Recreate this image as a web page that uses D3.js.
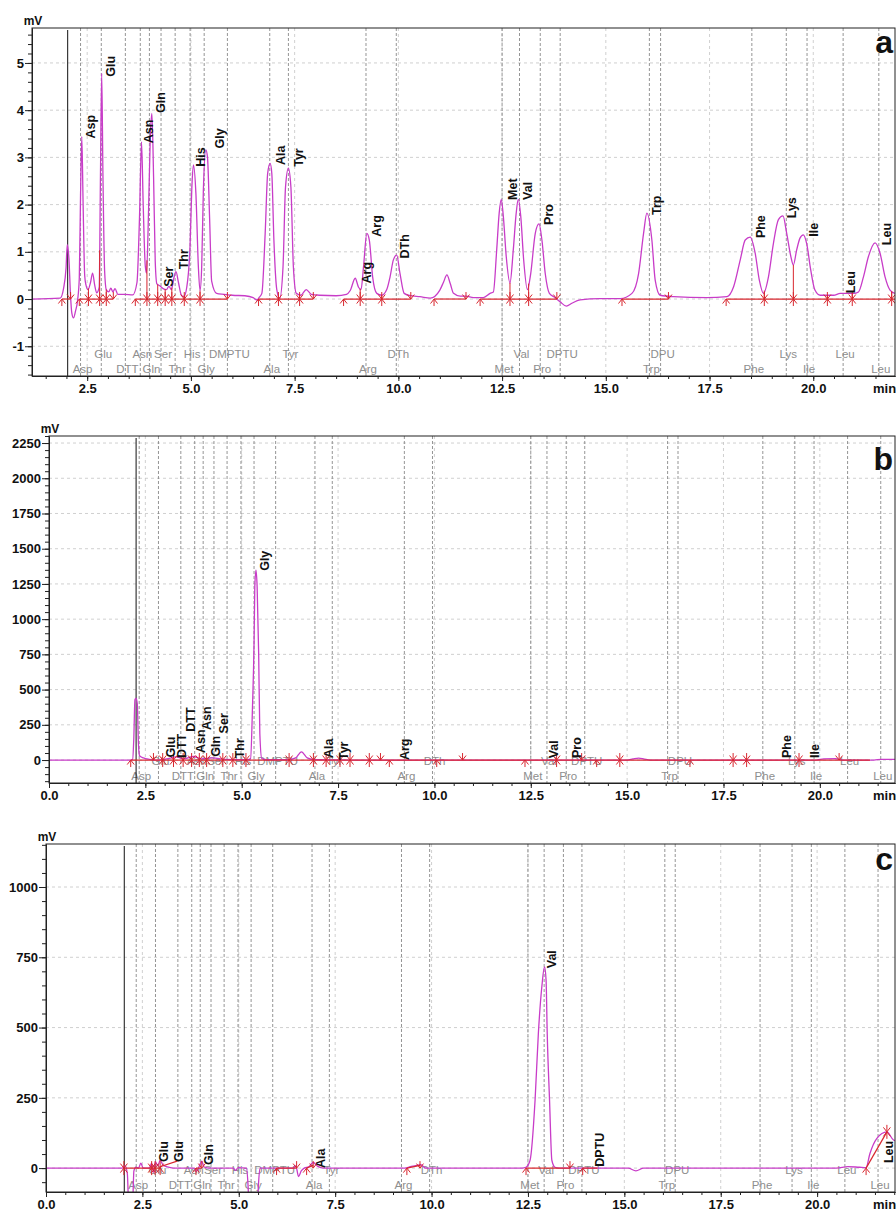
<!DOCTYPE html>
<html>
<head>
<meta charset="utf-8">
<script src="https://cdn.jsdelivr.net/npm/d3@7"></script>
<style>
  body { margin: 0; background: #fff; }
  svg { display: block; }
  text { font-family: "Liberation Sans", Arial, sans-serif; }
</style>
</head>
<body>
<svg id="chart" width="896" height="1212"></svg>
<script>
// ---- identification windows (expected retention times, min) shared by all runs ----
const windowNames = ["Asp","Glu","DTT","Asn","Gln","Ser","Thr","His","Gly","DMPTU","Ala","Tyr","Arg","DTh","Met","Val","Pro","DPTU","Trp","DPU","Phe","Lys","Ile","Leu","Leu"];
const windowTimes = [2.34,2.84,3.42,3.78,4.00,4.28,4.62,4.98,5.32,5.88,6.90,7.35,9.22,9.95,12.50,12.92,13.42,13.90,16.05,16.32,18.52,19.35,19.85,20.72,21.58];
const windowRows  = [1,0,1,0,1,0,1,0,1,0,1,0,1,0,1,0,1,0,1,0,1,0,1,0,1];

// ---- run a : detector signal [min, mV] ----
const traceA = [
  [1.17,0],[1.85,0.02],[1.93,0.22],[1.99,0.65],[2.02,1.15],[2.06,0.85],[2.10,0.05],[2.13,-0.3],[2.17,-0.4],[2.22,-0.25],[2.27,-0.02],
  [2.31,0.45],[2.34,2.2],[2.37,3.44],[2.40,2.1],[2.44,0.5],[2.47,0.3],[2.52,0.2],[2.58,0.35],[2.63,0.55],[2.68,0.3],[2.73,0.13],
  [2.79,0.25],[2.82,2.6],[2.85,4.78],[2.88,2.6],[2.92,0.6],[2.96,0.2],[3.02,0.15],[3.07,0.23],[3.12,0.15],[3.17,0.22],[3.24,0.1],[3.40,0.1],[3.60,0.09],
  [3.70,0.35],[3.76,1.7],[3.81,3.33],[3.85,2.0],[3.90,0.7],[3.93,0.55],[3.98,1.9],[4.02,3.4],[4.06,3.93],[4.10,2.6],[4.14,0.8],[4.18,0.32],[4.25,0.28],[4.33,0.22],
  [4.41,0.2],[4.47,0.27],[4.53,0.2],[4.59,0.45],[4.64,0.58],[4.70,0.35],[4.77,0.08],[4.83,0.05],
  [4.90,0.25],[4.98,1.14],[5.02,2.3],[5.06,2.84],[5.12,2.24],[5.18,0.68],[5.22,0.18],
  [5.26,0.68],[5.30,2.3],[5.36,3.16],[5.40,3.0],[5.45,1.73],[5.50,0.38],[5.62,0.12],
  [5.80,0.1],[6.00,0.08],[6.30,0.07],[6.50,0.03],[6.59,-0.02],[6.65,0.04],
  [6.71,0.12],[6.79,1.39],[6.85,2.66],[6.91,2.87],[6.95,2.66],[7.00,1.25],[7.07,0.2],[7.14,0.01],
  [7.22,0.68],[7.28,2.37],[7.35,2.77],[7.41,2.37],[7.47,0.68],[7.54,0.12],
  [7.65,0.08],[7.78,0.2],[7.90,0.1],[8.10,0.08],[8.50,0.07],[8.75,0.1],
  [8.84,0.18],[8.96,0.44],[9.04,0.25],[9.10,0.2],[9.16,0.68],[9.24,1.39],[9.30,1.25],[9.38,0.47],[9.48,0.12],[9.60,0.08],
  [9.72,0.2],[9.80,0.47],[9.88,0.83],[9.96,0.93],[10.04,0.54],[10.14,0.12],[10.29,0.07],
  [10.52,0.05],[10.77,0.02],[11.00,0.19],[11.09,0.36],[11.17,0.51],[11.25,0.33],[11.33,0.12],[11.49,0.06],[11.63,0.06],[11.81,0.03],[12.05,0.03],
  [12.21,0.12],[12.29,0.15],[12.37,1.04],[12.43,1.82],[12.48,2.11],[12.53,1.75],[12.60,0.9],[12.69,0.34],
  [12.77,1.04],[12.84,1.82],[12.89,2.11],[12.95,1.75],[13.02,0.83],[13.11,0.2],
  [13.19,0.54],[13.30,1.39],[13.39,1.59],[13.46,1.25],[13.54,0.54],[13.64,0.12],[13.78,0.03],
  [13.90,-0.06],[14.05,-0.15],[14.18,-0.09],[14.38,-0.02],[14.86,0.01],[15.35,0.01],
  [15.63,0.12],[15.79,0.54],[15.91,1.39],[15.99,1.82],[16.11,1.25],[16.19,0.4],[16.31,0.08],[16.63,0.05],
  [17.43,0.03],[17.92,0.05],
  [18.08,0.26],[18.24,0.83],[18.36,1.25],[18.48,1.31],[18.60,0.97],[18.70,0.4],[18.80,0.12],
  [18.92,0.47],[19.04,1.18],[19.16,1.68],[19.27,1.76],[19.36,1.39],[19.46,0.9],[19.52,0.72],
  [19.60,1.04],[19.68,1.29],[19.76,1.36],[19.84,1.18],[19.94,0.61],[20.04,0.19],[20.17,0.08],
  [20.49,0.08],[20.65,0.12],[20.97,0.12],
  [21.09,0.15],[21.21,0.47],[21.33,0.9],[21.49,1.19],[21.61,0.97],[21.73,0.47],[21.85,0.19],[21.97,0.12]
];
const peakNamesA = ["Asp","Glu","Asn","Gln","Ser","Thr","His","Gly","Ala","Tyr","Arg","Arg","DTh","Met","Val","Pro","Trp","Phe","Lys","Ile","Leu","Leu"];
const peakTimesA = [2.59,3.05,3.98,4.26,4.46,4.81,5.22,5.69,7.15,7.59,9.24,9.48,10.16,12.74,13.11,13.62,16.21,18.72,19.48,20.00,20.89,21.77];
const peakLevelsA = [3.40,4.71,3.30,3.94,0.26,0.63,2.80,3.19,2.84,2.80,0.33,1.32,0.86,2.10,2.10,1.57,1.78,1.29,1.71,1.32,0.12,1.14];
// integration marks: s = peak start, e = peak end, b = shared boundary
const markTimesA = [1.89,2.10,2.31,2.53,2.80,2.96,3.13,3.66,3.94,4.20,4.38,4.54,4.84,5.22,5.88,6.63,7.11,7.62,7.95,8.68,9.08,9.60,10.30,10.86,11.63,11.97,12.69,13.14,13.82,15.39,16.51,17.90,18.82,19.52,20.34,20.94,21.89];
const markTypesA = ["s","e","s","b","b","b","e","s","b","b","b","b","b","b","e","s","b","b","e","s","b","b","e","s","e","s","b","b","e","s","e","s","b","b","b","b","b"];
const baselinesA = [[1.89,0,2.10,0],[2.31,0,3.13,0],[3.66,0,5.88,0],[6.63,0,7.95,0],[8.68,0,10.30,0],[10.86,0,11.63,0],[11.97,0,13.82,0],[15.39,0,16.51,0],[17.90,0,21.97,0]];

// ---- run b ----
const traceB = [
  [0,0],[2.10,0],[2.17,5],[2.20,150],[2.23,430],[2.26,438],[2.29,400],[2.32,120],[2.35,30],[2.45,15],[2.60,5],[2.80,0],
  [3.05,8],[3.30,22],[3.50,8],[3.75,25],[3.95,8],[4.25,15],[4.55,5],[5.00,2],[5.15,3],
  [5.23,10],[5.28,378],[5.32,828],[5.34,1230],[5.37,1348],[5.40,1230],[5.44,756],[5.47,188],[5.52,10],[5.65,2],
  [6.20,2],[6.40,15],[6.55,58],[6.70,15],[6.90,2],[8.00,0],[15.00,0],[15.15,8],[15.30,14],[15.45,6],[15.60,0],
  [19.90,0],[20.10,8],[20.40,10],[20.60,0],[21.40,0],[21.60,5],[21.95,5]
];
const peakNamesB = ["Glu","DTT","DTT","Asn","Asn","Gln","Ser","Thr","Gly","Ala","Tyr","Arg","Val","Pro","Phe","Ile"];
const peakTimesB = [3.16,3.44,3.68,3.92,4.09,4.31,4.54,4.94,5.60,7.25,7.63,9.23,13.08,13.69,19.14,19.87];
const peakLevelsB = [18,14,201,50,213,23,189,12,1343,14,0,0,12,14,14,14];
const markTimesB = [2.12,2.71,2.95,3.23,3.48,3.70,3.90,4.09,4.51,4.77,5.11,6.23,6.86,7.19,7.55,7.81,8.31,8.60,8.83,10.06,10.73,12.35,13.17,13.82,14.21,14.81,16.63,17.75,18.10,19.46,20.50];
const markTypesB = ["s","e","b","b","b","b","b","b","b","b","b","b","b","b","b","b","b","e","s","s","e","s","b","e","s","b","s","b","b","b","e"];
const baselinesB = [[2.12,0,21.30,0]];

// ---- run c ----
const traceC = [
  [0,0],[1.98,0],[2.05,8],[2.11,-20],[2.15,-150],[2.24,-150],[2.28,-10],[2.33,3],[2.40,0],[2.46,18],[2.52,0],
  [2.68,0],[2.74,18],[2.79,-15],[2.84,22],[2.90,8],[2.96,28],[3.03,12],[3.15,4],[3.30,0],
  [3.85,0],[3.90,-12],[3.97,5],[4.04,25],[4.10,4],[4.25,0],[4.85,0],[4.92,-8],[4.98,2],
  [5.20,0],[5.24,-60],[5.27,-150],[5.48,-150],[5.51,-60],[5.55,0],
  [6.40,0],[6.48,8],[6.55,-30],[6.62,-10],[6.70,0],[6.82,5],[6.93,20],[7.05,6],[7.20,0],
  [9.30,0],[9.45,5],[9.62,10],[9.72,12],[9.85,0],
  [12.35,0],[12.45,3],[12.555,28],[12.685,242],[12.77,479],[12.86,645],[12.93,716],[12.97,669],[13.00,479],[13.06,242],[13.12,28],[13.20,3],[13.30,0],
  [15.10,0],[15.30,-10],[15.50,0],
  [20.50,0],[20.80,5],[21.10,3],[21.27,2],[21.37,52],[21.55,106],[21.81,129],[21.98,100],[22.02,98]
];
const peakNamesC = ["Glu","Glu","Gln","Ala","Val","DPTU","Leu"];
const peakTimesC = [3.04,3.43,4.21,7.13,13.12,14.35,21.86];
const peakLevelsC = [22,22,11,0,711,5,18];
const markTimesC = [2.02,2.74,2.83,2.96,3.89,4.04,5.98,6.50,6.76,6.93,9.36,9.70,12.45,13.59,13.92,21.27,21.81];
const markTypesC = ["b","b","b","b","s","e","s","e","s","e","s","e","s","e","s","s","b"];
const markLevelsC = [0,0,0,0,0,0,0,0,0,0,0,0,0,0,0,0,129];
const baselinesC = [[2.02,0,2.96,0],[2.96,5,3.40,25],[3.89,0,4.04,0],[5.98,0,6.50,0],[6.76,0,6.93,10],[9.36,0,9.70,10],[12.45,0,13.59,0],[13.92,0,14.30,0],[21.27,0,21.81,129]];

// ---- tick values ----
const xMajorTicks = [0,2.5,5,7.5,10,12.5,15,17.5,20];
const yTicksA = [-1,0,1,2,3,4,5];
const yTicksB = [0,250,500,750,1000,1250,1500,1750,2000,2250];
const yTicksC = [0,250,500,750,1000];

// ---- panel layout ----
const panels = [
  { id: "a", letter: "a", left: 32, right: 895, top: 28, bottom: 376,
    xDomain: [1.17, 21.97], yDomain: [-1.63, 5.74], yMajor: yTicksA, yMinorStep: 0.2,
    inject: 2.03, trace: traceA, names: peakNamesA, times: peakTimesA, levels: peakLevelsA,
    markT: markTimesA, markK: markTypesA, markV: null, base: baselinesA, drops: true, letterY: 53 },
  { id: "b", letter: "b", left: 49, right: 895, top: 436, bottom: 783,
    xDomain: [0, 21.95], yDomain: [-163, 2300], yMajor: yTicksB, yMinorStep: 50,
    inject: 2.26, trace: traceB, names: peakNamesB, times: peakTimesB, levels: peakLevelsB,
    markT: markTimesB, markK: markTypesB, markV: null, base: baselinesB, drops: false, letterY: 470 },
  { id: "c", letter: "c", left: 46, right: 895, top: 844, bottom: 1192,
    xDomain: [0, 22.02], yDomain: [-85, 1153], yMajor: yTicksC, yMinorStep: 50,
    inject: 2.03, trace: traceC, names: peakNamesC, times: peakTimesC, levels: peakLevelsC,
    markT: markTimesC, markK: markTypesC, markV: markLevelsC, base: baselinesC, drops: false, letterY: 870 }
];

const TRACE = "#c83cc8";
const INTEG = "#d8262e";
const svg = d3.select("#chart");
const defs = svg.append("defs");

function valueAt(trace, t) {
  for (let i = 1; i < trace.length; i++) {
    if (trace[i][0] >= t) {
      const [t0, v0] = trace[i - 1], [t1, v1] = trace[i];
      return v0 + (v1 - v0) * (t - t0) / (t1 - t0);
    }
  }
  return trace[trace.length - 1][1];
}

function drawPanel(p) {
  const x = d3.scaleLinear().domain(p.xDomain).range([p.left, p.right]);
  const y = d3.scaleLinear().domain(p.yDomain).range([p.bottom, p.top]);
  const g = svg.append("g").attr("class", "panel-" + p.id);

  defs.append("clipPath").attr("id", "clip-" + p.id)
    .append("rect").attr("x", p.left).attr("y", p.top)
    .attr("width", p.right - p.left).attr("height", p.bottom - p.top);

  const xMajor = xMajorTicks.filter(t => t >= p.xDomain[0] && t < p.xDomain[1]);
  const xMinor = d3.range(0, 22.01, 0.5).filter(t => t >= p.xDomain[0] && t <= p.xDomain[1]);
  const yMinor = d3.range(Math.ceil(p.yDomain[0] / p.yMinorStep), Math.floor(p.yDomain[1] / p.yMinorStep) + 1)
    .map(k => +(k * p.yMinorStep).toFixed(4));

  // grid
  const grid = g.append("g").attr("stroke", "#c4c4c4").attr("stroke-dasharray", "3,3").attr("stroke-width", 0.8);
  grid.selectAll("line.v").data(xMajor.filter(t => t > 0)).join("line")
    .attr("x1", d => x(d)).attr("x2", d => x(d)).attr("y1", p.top).attr("y2", p.bottom);
  grid.selectAll("line.h").data(p.yMajor).join("line")
    .attr("x1", p.left).attr("x2", p.right).attr("y1", d => y(d)).attr("y2", d => y(d));

  // identification windows
  const win = windowNames.map((n, i) => ({ n, t: windowTimes[i], r: windowRows[i] }));
  g.append("g").attr("stroke", "#7a7a7a").attr("stroke-dasharray", "3,2").attr("stroke-width", 0.8)
    .selectAll("line").data(win).join("line")
    .attr("x1", d => x(d.t)).attr("x2", d => x(d.t)).attr("y1", p.top).attr("y2", p.bottom);
  g.append("g").selectAll("text").data(win).join("text")
    .attr("x", d => x(d.t) + 2).attr("y", d => p.bottom - (d.r === 0 ? 22 : 7))
    .attr("dy", "0.35em").attr("text-anchor", "middle")
    .attr("font-size", 11.5).attr("fill", "#8e8e8e").text(d => d.n);

  // injection marker
  g.append("line").attr("x1", x(p.inject)).attr("x2", x(p.inject))
    .attr("y1", p.top + 2).attr("y2", p.bottom).attr("stroke", "#111").attr("stroke-width", 1);

  const plot = g.append("g").attr("clip-path", "url(#clip-" + p.id + ")");

  // signal
  const line = d3.line().x(d => x(d[0])).y(d => y(d[1])).curve(d3.curveMonotoneX);
  plot.append("path").datum(p.trace).attr("d", line)
    .attr("fill", "none").attr("stroke", TRACE).attr("stroke-width", 1.3);

  // integration baselines
  plot.append("g").selectAll("line").data(p.base).join("line")
    .attr("x1", d => x(d[0])).attr("y1", d => y(d[1]))
    .attr("x2", d => x(d[2])).attr("y2", d => y(d[3]))
    .attr("stroke", INTEG).attr("stroke-width", 1.2);

  const marks = p.markT.map((t, i) => ({ t, k: p.markK[i], v: p.markV ? p.markV[i] : 0 }));

  // drop lines at shared boundaries
  if (p.drops) {
    plot.append("g").selectAll("line").data(marks.filter(m => m.k === "b")).join("line")
      .attr("x1", d => x(d.t)).attr("x2", d => x(d.t))
      .attr("y1", d => y(d.v)).attr("y2", d => y(valueAt(p.trace, d.t)))
      .attr("stroke", INTEG).attr("stroke-width", 1);
  }

  // integration markers
  plot.append("g").selectAll("path").data(marks).join("path")
    .attr("d", m => {
      const px = x(m.t), py = y(m.v), pth = d3.path();
      if (m.k !== "e") { pth.moveTo(px, py); pth.lineTo(px, py + 7); pth.moveTo(px - 3.5, py + 4.5); pth.lineTo(px, py); pth.lineTo(px + 3.5, py + 4.5); }
      if (m.k !== "s") { pth.moveTo(px, py); pth.lineTo(px, py - 7); pth.moveTo(px - 3.5, py - 4.5); pth.lineTo(px, py); pth.lineTo(px + 3.5, py - 4.5); }
      return pth.toString();
    })
    .attr("fill", "none").attr("stroke", INTEG).attr("stroke-width", 1);

  // peak names
  const labels = p.names.map((n, i) => ({ n, t: p.times[i], v: p.levels[i] }));
  g.append("g").selectAll("text").data(labels).join("text")
    .attr("transform", d => `translate(${x(d.t)},${y(d.v)}) rotate(-90)`)
    .attr("dy", "0.36em").attr("font-size", 12.5).attr("font-weight", "bold")
    .attr("fill", "#111").text(d => d.n);

  // frame
  g.append("rect").attr("x", p.left).attr("y", p.top)
    .attr("width", p.right - p.left).attr("height", p.bottom - p.top)
    .attr("fill", "none").attr("stroke", "#222").attr("stroke-width", 1);

  // axes
  const fmtX = d3.format(".1f");
  const xAxis = g.append("g").attr("transform", `translate(0,${p.bottom})`)
    .call(d3.axisBottom(x).tickValues(xMajor).tickSize(5).tickSizeOuter(0).tickPadding(3).tickFormat(fmtX));
  g.append("g").attr("transform", `translate(0,${p.bottom})`)
    .call(d3.axisBottom(x).tickValues(xMinor).tickSize(3).tickSizeOuter(0).tickFormat(""));
  const yAxis = g.append("g").attr("transform", `translate(${p.left},0)`)
    .call(d3.axisLeft(y).tickValues(p.yMajor).tickSize(7).tickSizeOuter(0).tickPadding(1).tickFormat(d => String(d)));
  g.append("g").attr("transform", `translate(${p.left},0)`)
    .call(d3.axisLeft(y).tickValues(yMinor).tickSize(4).tickSizeOuter(0).tickFormat(""));
  g.selectAll(".domain").attr("stroke", "#222");
  g.selectAll(".tick line").attr("stroke", "#222");
  [xAxis, yAxis].forEach(a => a.selectAll("text")
    .attr("font-size", 13).attr("font-weight", "bold").attr("fill", "#111")
    .attr("font-family", '"Liberation Sans", Arial, sans-serif'));

  // unit captions
  g.append("text").attr("x", p.left + 1).attr("y", p.top - 3).attr("text-anchor", "middle")
    .attr("font-size", 12).attr("font-weight", "bold").attr("fill", "#111").text("mV");
  g.append("text").attr("x", 873).attr("y", p.bottom + 17)
    .attr("font-size", 13).attr("font-weight", "bold").attr("fill", "#111").text("min");

  // panel letter
  g.append("text").attr("x", 893).attr("y", p.letterY).attr("text-anchor", "end")
    .attr("font-size", 32).attr("font-weight", "bold").attr("fill", "#111").text(p.letter);
}

panels.forEach(drawPanel);
</script>
</body>
</html>
